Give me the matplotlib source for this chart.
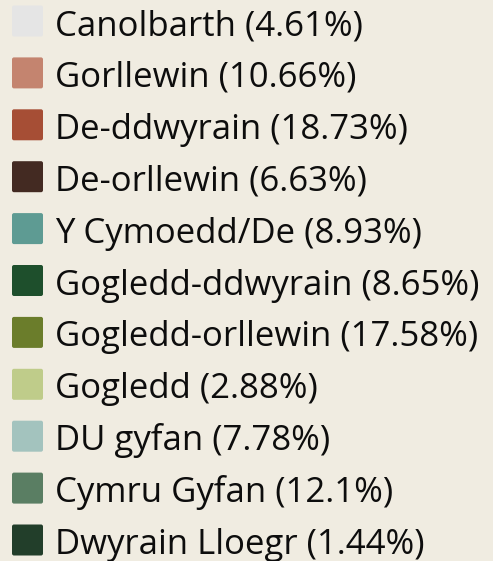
import matplotlib
matplotlib.use("Agg")
import matplotlib.pyplot as plt
from matplotlib.patches import FancyBboxPatch

labels = ["Canolbarth", "Gorllewin", "De-ddwyrain", "De-orllewin", "Y Cymoedd/De",
          "Gogledd-ddwyrain", "Gogledd-orllewin", "Gogledd", "DU gyfan",
          "Cymru Gyfan", "Dwyrain Lloegr"]
shares = ["4.61", "10.66", "18.73", "6.63", "8.93", "8.65", "17.58", "2.88",
          "7.78", "12.1", "1.44"]
colors = ["#e5e5e5", "#c4846f", "#a64e35", "#432a22", "#5e9b93", "#1e4f2c",
          "#6b7d2b", "#bfcc8a", "#a3c3be", "#5a7e63", "#223e2a"]

bg = "#f0ece1"
W, H = 493, 561
fig = plt.figure(figsize=(W / 100, H / 100), dpi=100, facecolor=bg)
ax = fig.add_axes([0, 0, 1, 1])
ax.set_facecolor(bg)
ax.set_xlim(0, W)
ax.set_ylim(H, 0)
ax.axis("off")

row_h = 51.9
for i, (lab, s, c) in enumerate(zip(labels, shares, colors)):
    yc = 21 + row_h * i
    ax.add_patch(FancyBboxPatch((12, yc - 15.5), 31, 31,
                                boxstyle="round,pad=0,rounding_size=2",
                                facecolor=c, edgecolor="none"))
    ax.text(55, yc + 14, f"{lab} ({s}%)", fontsize=25, family="Open Sans",
            color="#0d0d0d", va="baseline", ha="left")

fig.savefig("out.png", dpi=100, facecolor=bg)
